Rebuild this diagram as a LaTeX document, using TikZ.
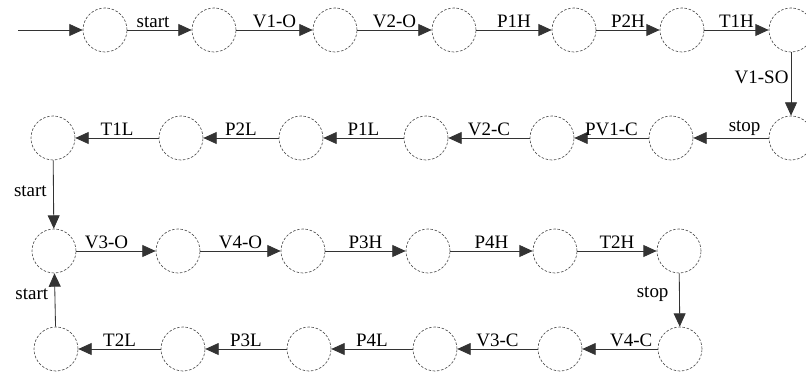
\documentclass[tikz,border=0pt]{standalone}
\usepackage{fontspec}
\setmainfont{Liberation Serif}
\usetikzlibrary{arrows.meta}

\begin{document}
\begin{tikzpicture}[x=0.025cm,y=-0.025cm]

\tikzset{
state/.style={
circle,
draw=black!70,
dash pattern=on 1.8pt off 1.2pt,
line width=0.45pt,
minimum size=1.1cm,
inner sep=0pt
},
trans/.style={
draw=black!80,
line width=0.6pt,
-{Triangle[length=9.5pt,width=8.5pt]}
},
translabel/.style={
font=\fontsize{13.5}{16}\selectfont,
inner sep=1.5pt
}
}

\useasboundingbox (0,0) rectangle (806,373);

%--------------------------------------------------
% ROW 1 (HIGH, LEFT TO RIGHT)
%--------------------------------------------------

\coordinate (init) at (18,30);
\node[state] (a1) at (105,30) {};
\node[state] (a2) at (214,30) {};
\node[state] (a3) at (335,30) {};
\node[state] (a4) at (454,30) {};
\node[state] (a5) at (574,30) {};
\node[state] (a6) at (682,30) {};
\node[state] (a7) at (791,30) {};

\draw[trans] (init) -- (a1);
\draw[trans] (a1) -- node[translabel,above,pos=0.4] {start} (a2);
\draw[trans] (a2) -- node[translabel,above] {V1-O} (a3);
\draw[trans] (a3) -- node[translabel,above] {V2-O} (a4);
\draw[trans] (a4) -- node[translabel,above] {P1H} (a5);
\draw[trans] (a5) -- node[translabel,above] {P2H} (a6);
\draw[trans] (a6) -- node[translabel,above] {T1H} (a7);

%--------------------------------------------------
% ROW 2 (LOW, RIGHT TO LEFT)
%--------------------------------------------------

\node[state] (b1) at (53,138) {};
\node[state] (b2) at (181,138) {};
\node[state] (b3) at (301,138) {};
\node[state] (b4) at (426,138) {};
\node[state] (b5) at (552,138) {};
\node[state] (b6) at (671,138) {};
\node[state] (b7) at (791,138) {};

\draw[trans] (a7) -- node[translabel,left,pos=0.4] {V1-SO} (b7);
\draw[trans] (b7) -- node[translabel,above,pos=0.32] {stop} (b6);
\draw[trans] (b6) -- node[translabel,above] {PV1-C} (b5);
\draw[trans] (b5) -- node[translabel,above] {V2-C} (b4);
\draw[trans] (b4) -- node[translabel,above] {P1L} (b3);
\draw[trans] (b3) -- node[translabel,above] {P2L} (b2);
\draw[trans] (b2) -- node[translabel,above] {T1L} (b1);

%--------------------------------------------------
% ROW 3 (HIGH, LEFT TO RIGHT)
%--------------------------------------------------

\node[state] (c1) at (54,251) {};
\node[state] (c2) at (178,251) {};
\node[state] (c3) at (303,251) {};
\node[state] (c4) at (428,251) {};
\node[state] (c5) at (555,251) {};
\node[state] (c6) at (679,251) {};

\draw[trans] (b1) -- node[translabel,left=3pt,pos=0.45] {start} (c1);
\draw[trans] (c1) -- node[translabel,above,pos=0.38] {V3-O} (c2);
\draw[trans] (c2) -- node[translabel,above] {V4-O} (c3);
\draw[trans] (c3) -- node[translabel,above] {P3H} (c4);
\draw[trans] (c4) -- node[translabel,above] {P4H} (c5);
\draw[trans] (c5) -- node[translabel,above] {T2H} (c6);

%--------------------------------------------------
% ROW 4 (LOW, RIGHT TO LEFT)
%--------------------------------------------------

\node[state] (d1) at (56,349) {};
\node[state] (d2) at (183,349) {};
\node[state] (d3) at (309,349) {};
\node[state] (d4) at (435,349) {};
\node[state] (d5) at (560,349) {};
\node[state] (d6) at (680,349) {};

\draw[trans] (c6) -- node[translabel,left=6pt,pos=0.4] {stop} (d6);
\draw[trans] (d6) -- node[translabel,above,pos=0.35] {V4-C} (d5);
\draw[trans] (d5) -- node[translabel,above] {V3-C} (d4);
\draw[trans] (d4) -- node[translabel,above] {P4L} (d3);
\draw[trans] (d3) -- node[translabel,above] {P3L} (d2);
\draw[trans] (d2) -- node[translabel,above] {T2L} (d1);
\draw[trans] (d1) -- node[translabel,left=3pt,pos=0.6] {start} (c1);

\end{tikzpicture}
\end{document}
